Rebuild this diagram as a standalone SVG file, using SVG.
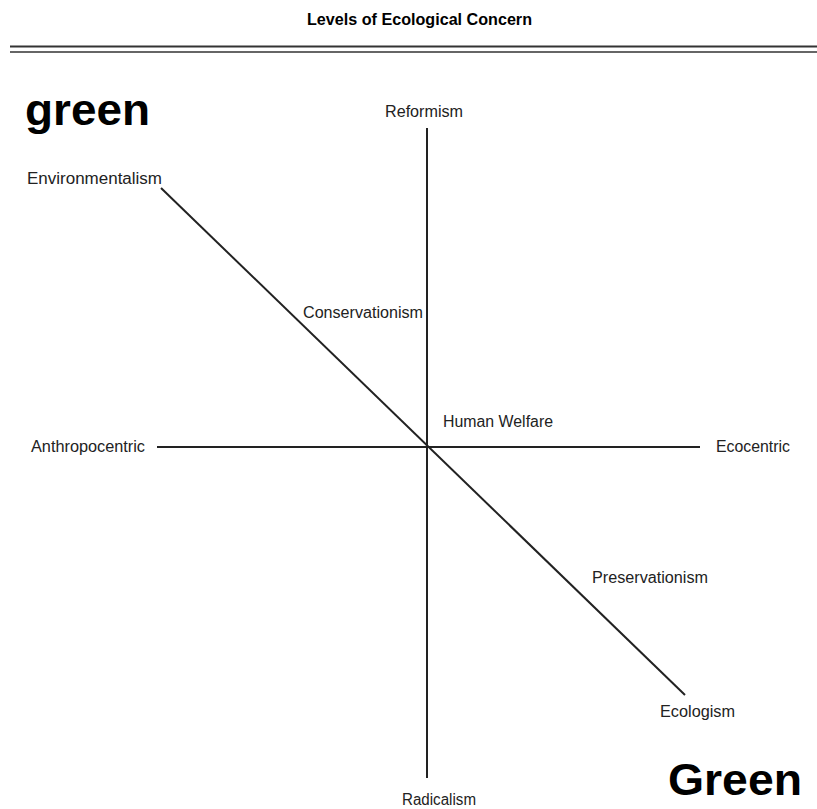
<svg xmlns="http://www.w3.org/2000/svg" width="817" height="809" viewBox="0 0 817 809">
<style>
.lbl{font-family:"Liberation Sans",Arial,sans-serif;font-size:16px;fill:#222}
.big{font-family:"Liberation Sans",Arial,sans-serif;font-weight:bold;fill:#000}
.ln{stroke:#222;stroke-width:2;fill:none}
</style>
<rect width="817" height="809" fill="#fff"/>
<text x="307" y="25" class="big" font-size="16" textLength="225" lengthAdjust="spacingAndGlyphs" fill="#222">Levels of Ecological Concern</text>
<line x1="10" y1="46.5" x2="817" y2="46.5" stroke="#333" stroke-width="2"/>
<line x1="10" y1="52" x2="817" y2="52" stroke="#333" stroke-width="1.5"/>
<g id="connectors">
<line class="ln" x1="427" y1="128" x2="427" y2="778"/>
<line class="ln" x1="157" y1="447" x2="700" y2="447"/>
<line class="ln" x1="161" y1="188" x2="685" y2="695"/>
</g>
<g id="green"><text x="25" y="125" class="big" font-size="44" textLength="125" lengthAdjust="spacingAndGlyphs">green</text></g>
<g id="Green"><text x="668" y="795" class="big" font-size="45" textLength="134" lengthAdjust="spacingAndGlyphs">Green</text></g>
<g id="reformism"><text x="385" y="117" class="lbl" textLength="78" lengthAdjust="spacingAndGlyphs">Reformism</text></g>
<g id="environmentalism"><text x="27" y="184" class="lbl" textLength="135" lengthAdjust="spacingAndGlyphs">Environmentalism</text></g>
<g id="conservationism"><text x="303" y="318" class="lbl" textLength="120" lengthAdjust="spacingAndGlyphs">Conservationism</text></g>
<g id="anthropocentric"><text x="31" y="452" class="lbl" textLength="114" lengthAdjust="spacingAndGlyphs">Anthropocentric</text></g>
<g id="humanwelfare"><text x="443" y="427" class="lbl" textLength="110" lengthAdjust="spacingAndGlyphs">Human Welfare</text></g>
<g id="ecocentric"><text x="716" y="452" class="lbl" textLength="74" lengthAdjust="spacingAndGlyphs">Ecocentric</text></g>
<g id="preservationism"><text x="592" y="583" class="lbl" textLength="116" lengthAdjust="spacingAndGlyphs">Preservationism</text></g>
<g id="ecologism"><text x="660" y="717" class="lbl" textLength="75" lengthAdjust="spacingAndGlyphs">Ecologism</text></g>
<g id="radicalism"><text x="402" y="805" class="lbl" textLength="74" lengthAdjust="spacingAndGlyphs">Radicalism</text></g>
</svg>
